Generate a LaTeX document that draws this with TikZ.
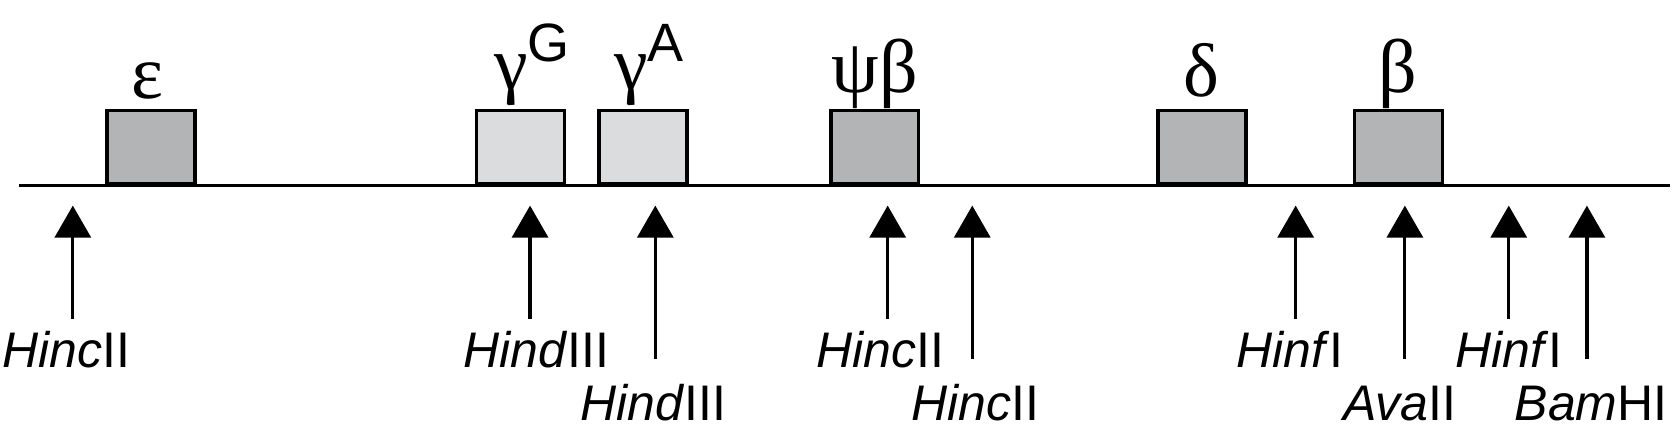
\documentclass[tikz,border=0pt]{standalone}
\usepackage{fontspec}
\setmainfont{Liberation Sans}
\newfontfamily\greekfont{Liberation Serif}
\usetikzlibrary{arrows.meta,positioning}
\definecolor{genedark}{RGB}{178,180,182}
\definecolor{genelight}{RGB}{218,220,222}
\tikzset{
  gene/.style={draw,line width=1.7pt,minimum width=43.9pt,minimum height=36.4pt,inner sep=0pt,anchor=south},
  darkgene/.style={gene,fill=genedark},
  lightgene/.style={gene,fill=genelight},
  glabel/.style={font=\greekfont\fontsize{38}{40}\selectfont,inner sep=0pt,anchor=base},
  enz/.style={font=\fontsize{25}{28}\selectfont,inner sep=0pt,anchor=base},
  site/.style={-{Triangle[width=18pt,length=16pt]},line width=1.6pt},
}
\newcommand{\gsup}[1]{\raisebox{14pt}{\rmfamily\fontsize{27}{28}\selectfont #1}}
\begin{document}
\begin{tikzpicture}[x=0.5355pt,y=-0.5355pt]
      \useasboundingbox (0,0) rectangle (1568,402.5);
      \coordinate (left) at (18,173);
      \coordinate (right) at (1560,173);
      \draw[line width=1.6pt] (left) -- (right);
      \node[darkgene] (eps) at (141,173) {};
      \node[lightgene] (gG) at (486,173) {};
      \node[lightgene] (gA) at (600.5,173) {};
      \node[darkgene] (psib) at (817,173) {};
      \node[darkgene] (delta) at (1122.5,173) {};
      \node[darkgene] (beta) at (1306,173) {};
      \draw
        (138,92) node[glabel] (epsl){ε}
        (497,84) node[glabel] (gGl){γ\gsup{G}}
        (606,84) node[glabel] (gAl){γ\gsup{A}}
        (817,86) node[glabel] (psibl){ψβ}
        (1122,90) node[glabel] (deltal){δ}
        (1305,86) node[glabel] (betal){β};
      \draw
        (62,343) node[enz] (e1){\textit{Hinc}II}
        (501,343) node[enz] (e2){\textit{Hind}III}
        (610,393) node[enz] (e3){\textit{Hind}III}
        (822,343) node[enz] (e4){\textit{Hinc}II}
        (911,393) node[enz] (e5){\textit{Hinc}II}
        (1205,343) node[enz] (e6){\textit{Hinf}I}
        (1307,393) node[enz] (e7){\textit{Ava}II}
        (1409,343) node[enz] (e8){\textit{Hinf}I}
        (1486,393) node[enz] (e9){\textit{Bam}HI};
      \coordinate (t1) at (68,192);   \coordinate (b1) at (68,298);
      \coordinate (t2) at (495,192);  \coordinate (b2) at (495,298);
      \coordinate (t3) at (612,192);  \coordinate (b3) at (612,335);
      \coordinate (t4) at (829,192);  \coordinate (b4) at (829,298);
      \coordinate (t5) at (908,192);  \coordinate (b5) at (908,335);
      \coordinate (t6) at (1210,192); \coordinate (b6) at (1210,298);
      \coordinate (t7) at (1312,192); \coordinate (b7) at (1312,335);
      \coordinate (t8) at (1409,192); \coordinate (b8) at (1409,298);
      \coordinate (t9) at (1482,192); \coordinate (b9) at (1482,335);
      \begin{scope}[site]
        \draw (b1) to (t1);
        \draw (b2) to (t2);
        \draw (b3) to (t3);
        \draw (b4) to (t4);
        \draw (b5) to (t5);
        \draw (b6) to (t6);
        \draw (b7) to (t7);
        \draw (b8) to (t8);
        \draw (b9) to (t9);
      \end{scope}
    \end{tikzpicture}
\end{document}
